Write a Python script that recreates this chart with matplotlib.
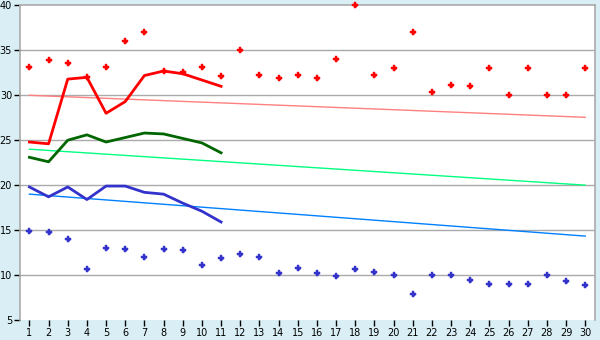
import matplotlib
matplotlib.use("Agg")
import matplotlib.pyplot as plt

days = list(range(1, 31))
max_vals = [33.1, 33.9, 33.6, 32.0, 33.1, 36.0, 37.0, 32.7, 32.6, 33.2,
            32.2, 35.0, 32.3, 31.9, 32.3, 31.9, 34.0, 40.0, 32.3, 33.0,
            37.0, 30.4, 31.1, 31.0, 33.0, 30.0, 33.0, 30.0, 30.0, 33.0]
min_vals = [14.9, 14.8, 14.0, 10.7, 13.0, 12.9, 12.0, 12.9, 12.8, 11.1,
            11.9, 12.3, 12.0, 10.2, 10.8, 10.2, 9.9, 10.7, 10.3, 10.0,
            7.9, 10.0, 10.0, 9.4, 9.0, 9.0, 9.0, 10.0, 9.3, 8.9]
avg_days = list(range(1, 12))
avg_max = [24.8, 24.6, 31.8, 32.0, 28.0, 29.3, 32.2, 32.7, 32.4, 31.7, 31.0]
avg_mean = [23.1, 22.6, 25.0, 25.6, 24.8, 25.3, 25.8, 25.7, 25.2, 24.7, 23.6]
avg_min = [19.8, 18.7, 19.8, 18.4, 19.9, 19.9, 19.2, 19.0, 18.0, 17.1, 15.9]
trend_days = [1, 30]
trend_max = [30.0, 27.55]
trend_mean = [24.0, 20.0]
trend_min = [19.0, 14.33]
y_ticks = [5, 10, 15, 20, 25, 30, 35, 40]

bg = "#d9eff5"
fig = plt.figure(figsize=(6, 3.4), dpi=100, facecolor=bg)
ax = fig.add_axes([0.034, 0.059, 0.958, 0.925])
ax.set_facecolor("white")

for y in y_ticks[1:-1]:
    ax.axhline(y, color="#aaaaaa", lw=1, zorder=1)

ax.plot(trend_days, trend_max, color="#ff8080", lw=1, zorder=2)
ax.plot(trend_days, trend_mean, color="#00ff80", lw=1, zorder=2)
ax.plot(trend_days, trend_min, color="#0080ff", lw=1, zorder=2)

for vals, col in [(max_vals, "#ff0000"), (min_vals, "#3333cc")]:
    ax.plot(days, vals, linestyle="none", marker="P", markersize=5,
            color=col, markeredgewidth=0.3, markeredgecolor=col,
            zorder=2.6, clip_on=False)
    ax.plot(days, vals, linestyle="none", marker="D", markersize=2.8,
            color=col, markeredgewidth=0, zorder=2.6, clip_on=False)

ax.plot(avg_days, avg_max, color="#ff0000", lw=2, zorder=3)
ax.plot(avg_days, avg_mean, color="#006600", lw=2, zorder=3)
ax.plot(avg_days, avg_min, color="#3333cc", lw=2, zorder=3)

ax.set_xlim(0.53, 30.52)
ax.set_ylim(5, 40)
ax.set_xticks(days)
ax.set_yticks(y_ticks)
ax.tick_params(axis="both", labelsize=7, length=4, width=1, color="black",
               pad=2, direction="out")
for s in ["left", "top", "right"]:
    ax.spines[s].set_color("#aaaaaa")
    ax.spines[s].set_linewidth(1.2)
    ax.spines[s].set_zorder(2.4)
ax.spines["bottom"].set_visible(False)

fig.savefig("out.png", dpi=100, facecolor=bg)
